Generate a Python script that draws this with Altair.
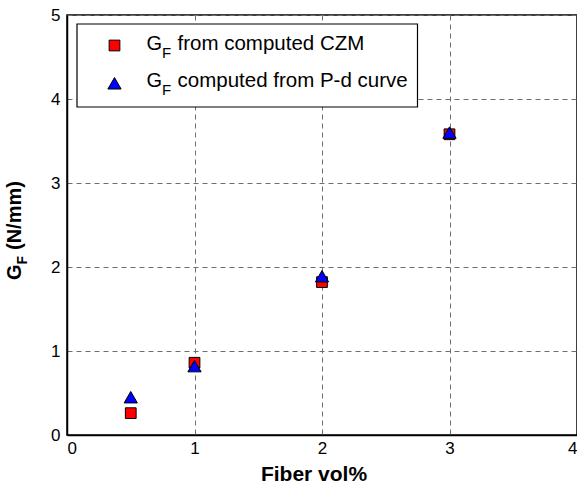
import altair as alt
import pandas as pd

# ---- data ----
fiber_vol = [0.5, 1, 2, 3]
gf_czm = [0.26, 0.86, 1.82, 3.58]      # G_F from computed CZM (red squares)
gf_pd = [0.45, 0.82, 1.89, 3.60]       # G_F computed from P-d curve (blue triangles)
x_ticks = [0, 1, 2, 3, 4]
y_ticks = [0, 1, 2, 3, 4, 5]
legend_rest = ["from computed CZM", "computed from P-d curve"]
x_title = "Fiber vol%"
y_title_rest = "(N/mm)"

FONT = "Liberation Sans"
W, H = 510, 420

df_czm = pd.DataFrame({"fiber": fiber_vol, "gf": gf_czm})
df_pd = pd.DataFrame({"fiber": fiber_vol, "gf": gf_pd})
one = pd.DataFrame({"a": [0]})

xs = alt.Scale(domain=[0, 4], nice=False, zero=False)
ys = alt.Scale(domain=[0, 5], nice=False, zero=False)

GRID = "#6e6e6e"
x_axis = alt.Axis(values=x_ticks, title=None, labelFontSize=17, labelFont=FONT,
                  labelColor="black", labelPadding=5, ticks=False,
                  domainColor="black", domainWidth=1.5, grid=True, gridColor=GRID,
                  gridDash=[5, 4], gridWidth=1, format="d")
y_axis = alt.Axis(values=y_ticks, title=None, labelFontSize=17, labelFont=FONT,
                  labelColor="black", labelPadding=7, ticks=False, domainColor="black",
                  domainWidth=1.5, grid=True, gridColor=GRID, gridDash=[5, 4], gridWidth=1,
                  format="d")

squares = alt.Chart(df_czm).mark_point(shape="square", filled=True, fill="#ff0000",
                                       stroke="black", strokeWidth=1, size=115, opacity=1).encode(
    x=alt.X("fiber:Q", scale=xs, axis=x_axis),
    y=alt.Y("gf:Q", scale=ys, axis=y_axis),
)
triangles = alt.Chart(df_pd).mark_point(shape="triangle-up", filled=True, fill="#0000ff",
                                        stroke="black", strokeWidth=1, size=175, opacity=1).encode(
    x=alt.X("fiber:Q", scale=xs),
    y=alt.Y("gf:Q", scale=ys),
)

# ---- legend box ----
leg_box = alt.Chart(one).mark_rect(fill="white", stroke="black", strokeWidth=1.2).encode(
    x=alt.value(10), x2=alt.value(350.5), y=alt.value(9), y2=alt.value(92))
leg_sq = alt.Chart(one).mark_point(shape="square", filled=True, fill="#ff0000", stroke="black",
                                   strokeWidth=1, size=115, opacity=1).encode(
    x=alt.value(47.5), y=alt.value(30.5))
leg_tri = alt.Chart(one).mark_point(shape="triangle-up", filled=True, fill="#0000ff", stroke="black",
                                    strokeWidth=1, size=175, opacity=1).encode(
    x=alt.value(47.5), y=alt.value(68.3))

LX = 79.5
def leg_text(y, rest):
    g = alt.Chart(one).mark_text(text="G", font=FONT, fontSize=20, align="left",
                                 baseline="alphabetic", color="black").encode(
        x=alt.value(LX), y=alt.value(y))
    f = alt.Chart(one).mark_text(text="F", font=FONT, fontSize=15, align="left",
                                 baseline="alphabetic", color="black", dx=15.6, dy=8).encode(
        x=alt.value(LX), y=alt.value(y))
    r = alt.Chart(one).mark_text(text=rest, font=FONT, fontSize=20.5, align="left",
                                 baseline="alphabetic", color="black", dx=31).encode(
        x=alt.value(LX), y=alt.value(y))
    return [g, f, r]

leg_layers = leg_text(34.5, legend_rest[0]) + leg_text(72.3, legend_rest[1])

# ---- x-axis title ----
xt = alt.Chart(one).mark_text(text=x_title, font=FONT, fontSize=21, fontWeight="bold",
                              align="center", baseline="alphabetic", color="black").encode(
    x=alt.value(247), y=alt.value(466))

# ---- y-axis title with subscript (rotated) ----
YX, YY = -46, 265
yt_g = alt.Chart(one).mark_text(text="G", font=FONT, fontSize=20, fontWeight="bold", angle=270,
                                align="left", baseline="alphabetic", color="black").encode(
    x=alt.value(YX), y=alt.value(YY))
yt_f = alt.Chart(one).mark_text(text="F", font=FONT, fontSize=14, fontWeight="bold", angle=270,
                                align="left", baseline="alphabetic", color="black", dx=15.6, dy=6).encode(
    x=alt.value(YX), y=alt.value(YY))
yt_r = alt.Chart(one).mark_text(text=y_title_rest, font=FONT, fontSize=20, fontWeight="bold", angle=270,
                                align="left", baseline="alphabetic", color="black", dx=30).encode(
    x=alt.value(YX), y=alt.value(YY))

chart = alt.layer(squares, triangles, leg_box, leg_sq, leg_tri, *leg_layers, xt,
                  yt_g, yt_f, yt_r).properties(
    width=W, height=H,
    padding={"left": 67, "top": 15, "right": 0, "bottom": 52},
    autosize="none",
    background="white",
).configure_view(stroke="black", strokeWidth=1.5)

chart.save("out.html", embed_options={"renderer": "svg", "actions": False})
